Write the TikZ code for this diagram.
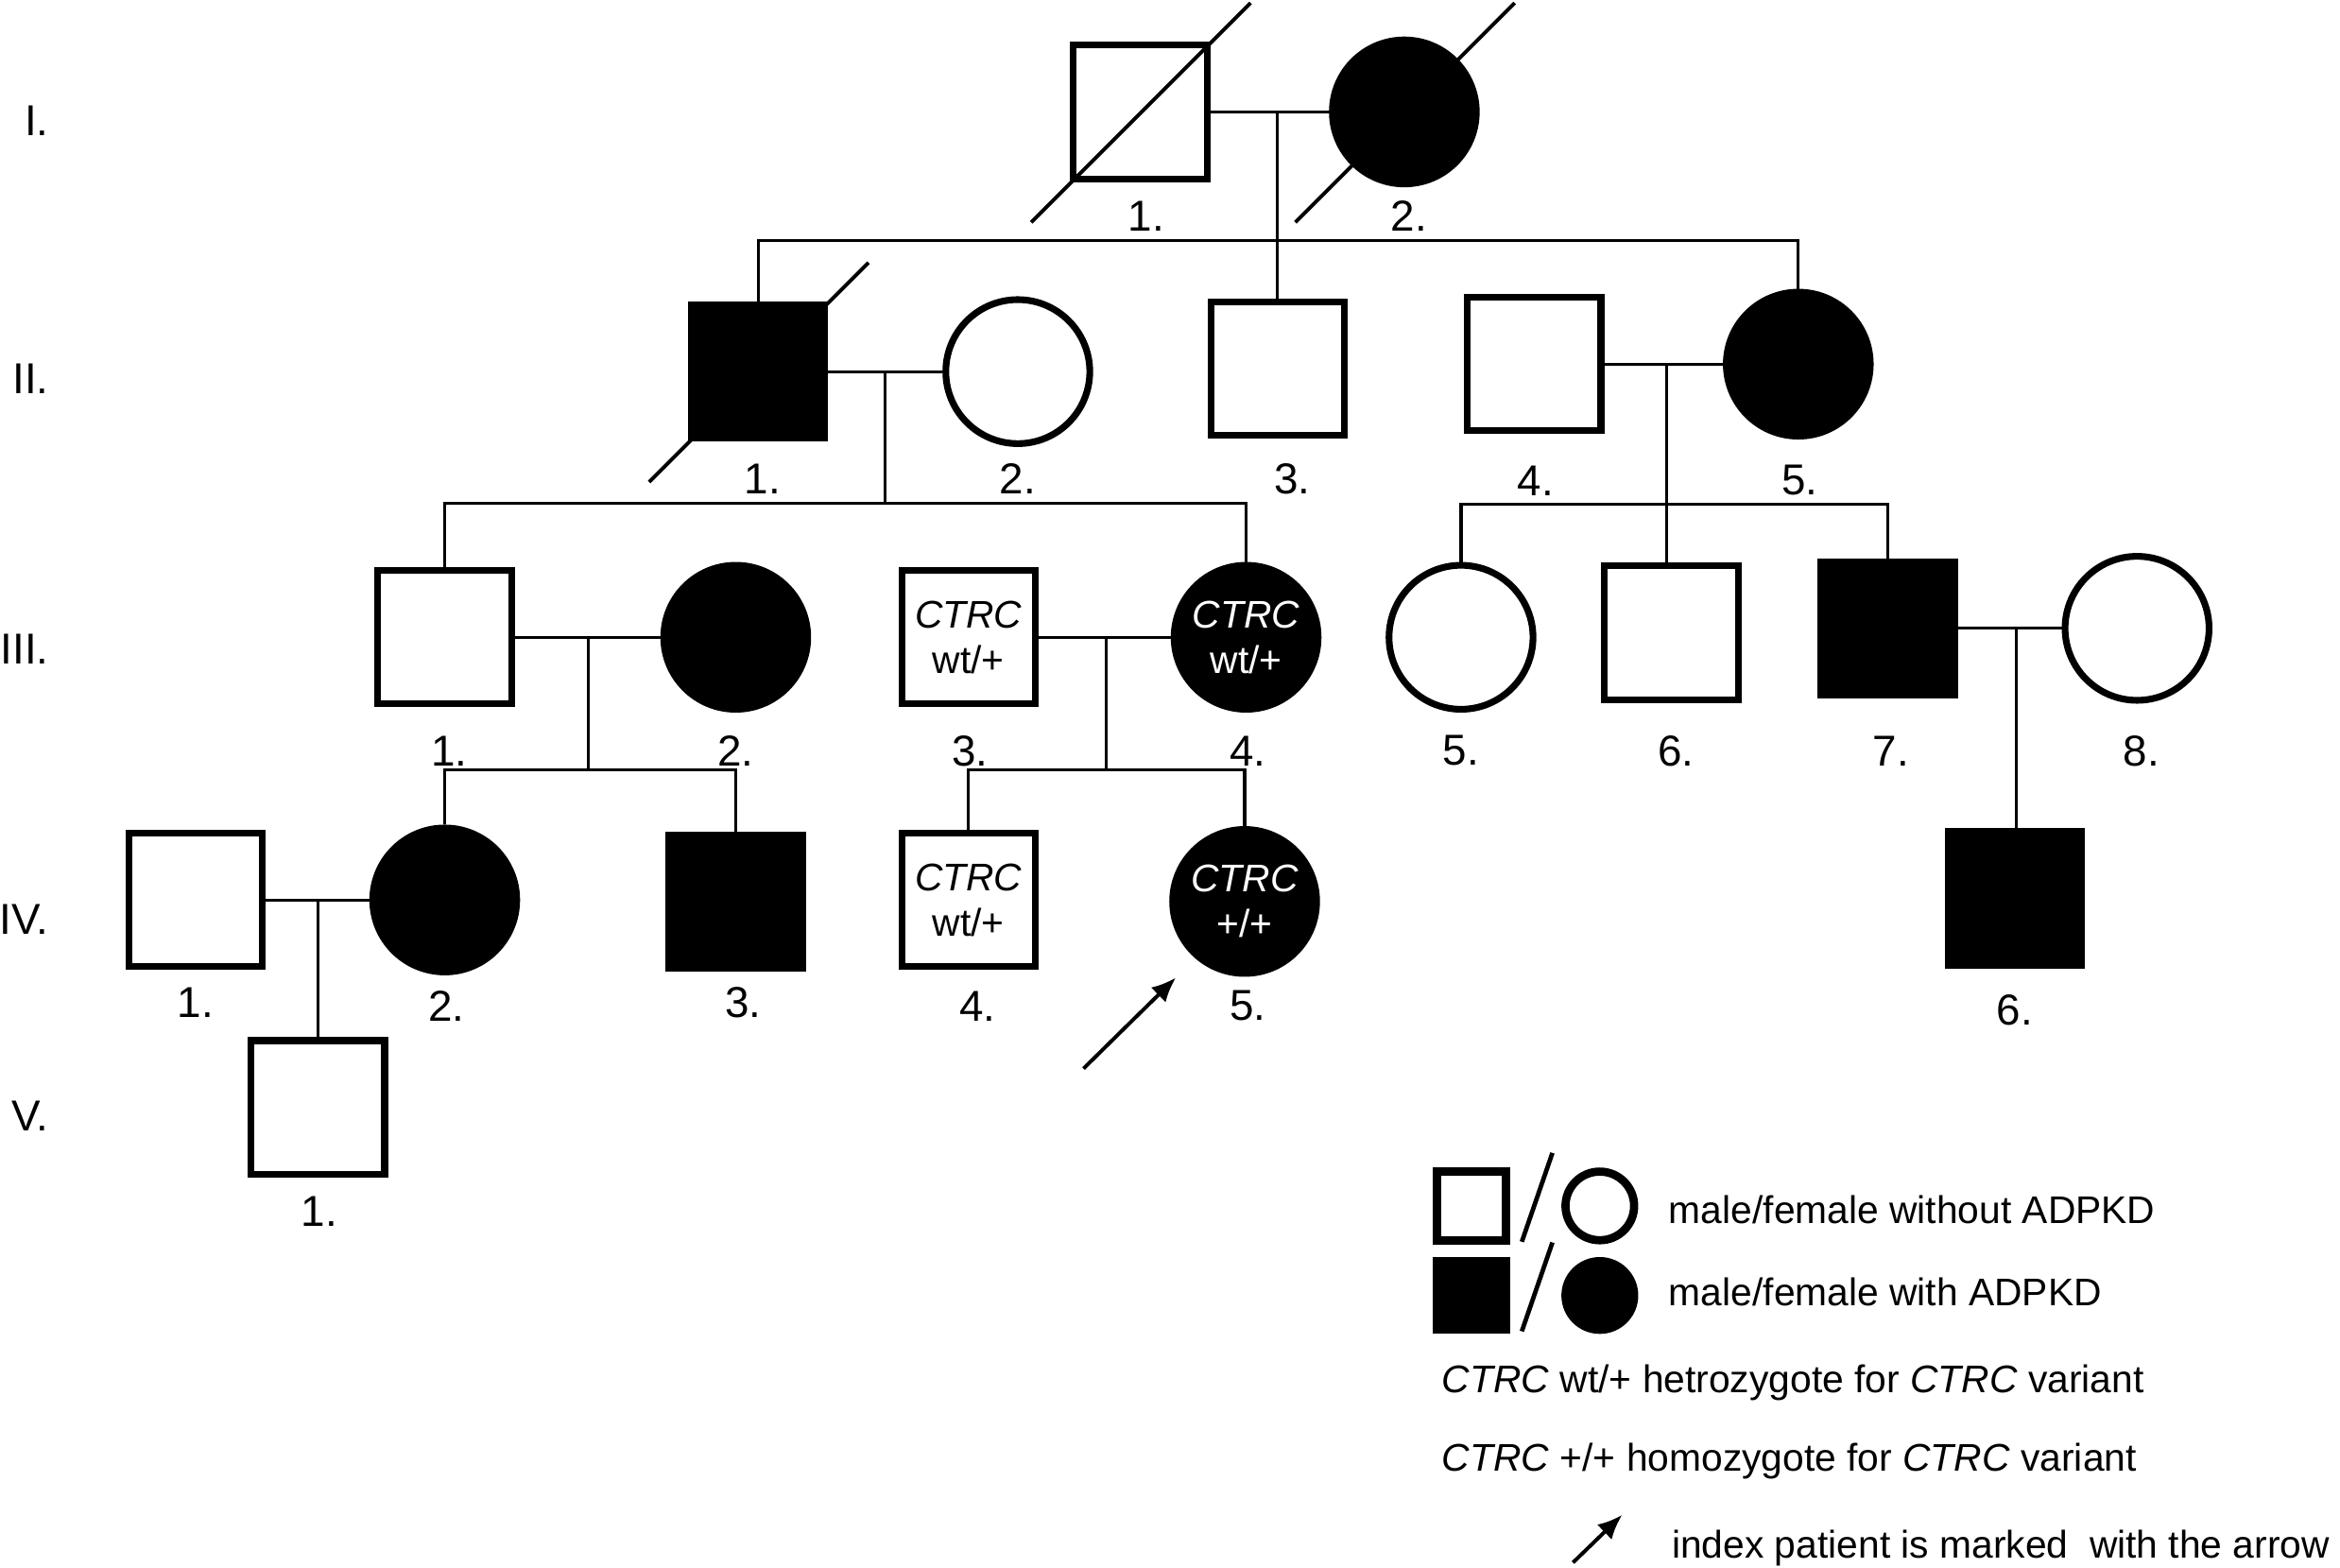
\documentclass[tikz,border=0pt]{standalone}
\usepackage{fontspec}
\setmainfont{Liberation Sans}
\usetikzlibrary{calc, arrows.meta}
\newcommand{\numfont}{\fontsize{16.5}{19.8}\selectfont}
\newcommand{\txtfont}{\fontsize{14.7}{17.4}\selectfont}

\begin{document}
\begin{tikzpicture}[x=0.02cm, y=-0.02cm, >={Latex[length=0.33cm,width=0.28cm]},
    male/.style={draw, rectangle, line width=0.09cm, minimum size=1.79cm, inner sep=0pt, fill=white},
    female/.style={draw, circle, line width=0.09cm, minimum size=1.93cm, inner sep=0pt, fill=white},
    affected/.style={fill=black, text=white},
    carrier/.style={font=\txtfont, align=center},
    keybox/.style={line width=0.11cm, minimum size=0.92cm},
    link/.style={line width=0.04cm},
    deceased/.style={line width=0.05cm},
    num/.style={font=\numfont, inner sep=0pt},
    gen/.style={font=\numfont, inner sep=0pt, anchor=east},
    legtxt/.style={font=\txtfont, inner sep=0pt, anchor=base west}]
\useasboundingbox (0,0) rectangle (1568,1050);

% generations
\node[gen] (gI) at (33,81) {I.};
\node[gen] (gII) at (33,254) {II.};
\node[gen] (gIII) at (33,435) {III.};
\node[gen] (gIV) at (33,616) {IV.};
\node[gen] (gV) at (33,748) {V.};

% I
\node[male] (I1) at (764,75) {};
\node[female, affected] (I2) at (941,75) {};
% II
\node[male, affected] (II1) at (508,249) {};
\node[female] (II2) at (682,249) {};
\node[male] (II3) at (856,247) {};
\node[male] (II4) at (1028,244) {};
\node[female, affected] (II5) at (1205,244) {};
% III
\node[male] (III1) at (298,427) {};
\node[female, affected] (III2) at (493,427) {};
\node[male, carrier] (III3) at (649,427) {\textit{CTRC}\\wt/+};
\node[female, affected, carrier] (III4) at (835,427) {\textit{CTRC}\\wt/+};
\node[female] (III5) at (979,427) {};
\node[male] (III6) at (1120,424) {};
\node[male, affected] (III7) at (1265,421) {};
\node[female] (III8) at (1432,421) {};
% IV
\node[male] (IV1) at (131,603) {};
\node[female, affected] (IV2) at (298,603) {};
\node[male, affected] (IV3) at (493,604) {};
\node[male, carrier] (IV4) at (649,603) {\textit{CTRC}\\wt/+};
\node[female, affected, carrier] (IV5) at (834,604) {\textit{CTRC}\\+/+};
\node[male, affected] (IV6) at (1350,602) {};
% V
\node[male] (V1) at (213,742) {};

% numbers
\node[num] (nI1) at (768,145) {1.};
\node[num] (nI2) at (944,145) {2.};
\node[num] (nII1) at (511,321) {1.};
\node[num] (nII2) at (682,321) {2.};
\node[num] (nII3) at (866,321) {3.};
\node[num] (nII4) at (1029,322) {4.};
\node[num] (nII5) at (1206,322) {5.};
\node[num] (nIII1) at (301,503) {1.};
\node[num] (nIII2) at (493,503) {2.};
\node[num] (nIII3) at (650,503) {3.};
\node[num] (nIII4) at (836,503) {4.};
\node[num] (nIII5) at (979,503) {5.};
\node[num] (nIII6) at (1123,503) {6.};
\node[num] (nIII7) at (1267,503) {7.};
\node[num] (nIII8) at (1435,503) {8.};
\node[num] (nIV1) at (131,672) {1.};
\node[num] (nIV2) at (299,674) {2.};
\node[num] (nIV3) at (498,672) {3.};
\node[num] (nIV4) at (655,674) {4.};
\node[num] (nIV5) at (836,674) {5.};
\node[num] (nIV6) at (1350,677) {6.};
\node[num] (nV1) at (214,812) {1.};

% matings and sibships
\coordinate (m1) at (856,75);
\coordinate (m2) at (593,249);
\coordinate (m3) at (1117,244);
\coordinate (m4) at (394,427);
\coordinate (m5) at (741,427);
\coordinate (m6) at (1351,421);
\coordinate (m7) at (213,603);
\coordinate (s1) at ($(m1)+(0,86)$);
\coordinate (s2) at ($(m2)+(0,88)$);
\coordinate (s3) at ($(m3)+(0,94)$);
\coordinate (s4) at ($(m4)+(0,89)$);
\coordinate (s5) at ($(m5)+(0,89)$);

\draw[link] (I1) -- (I2);
\draw[link] (m1) -- (m1 |- II3.north);
\draw[link] (II1.north) |- (s1) -| (II5.north);
\draw[link] (II1) -- (II2);
\draw[link] (m2) -- (s2);
\draw[link] (III1.north) |- (s2) -| (III4.north);
\draw[link] (II4) -- (II5);
\draw[link] (m3) -- (m3 |- III6.north);
\draw[link] (III5.north) |- (s3) -| (III7.north);
\draw[link] (III1) -- (III2);
\draw[link] (m4) -- (s4);
\draw[link] (IV2.north) |- (s4) -| (IV3.north);
\draw[link] (III3) -- (III4);
\draw[link] (m5) -- (s5);
\draw[link] (IV4.north) |- (s5) -| (IV5.north);
\draw[link] (III7) -- (III8);
\draw[link] (m6) -- (m6 |- IV6.north);
\draw[link] (IV1) -- (IV2);
\draw[link] (m7) -- (m7 |- V1.north);

% deceased
\draw[deceased] ($(I1)+(-73,74)$) -- ($(I1)+(74,-73)$);
\draw[deceased] ($(I2)+(-73,74)$) -- ($(I2)+(74,-73)$);
\draw[deceased] ($(II1)+(-73,74)$) -- ($(II1)+(74,-73)$);

% index patient
\coordinate (pt) at (726,716);
\coordinate (ph) at ($(IV5)+(-46,51)$);
\draw[->, line width=0.05cm] (pt) -- (ph);

% legend
\node[male, keybox] (kA) at (986,808) {};
\node[female, keybox] (kB) at (1072,808) {};
\node[male, affected, keybox] (kC) at (986,868) {};
\node[female, affected, keybox] (kD) at (1072,868) {};
\draw[line width=0.06cm] ($(kA.east)+(8,24)$) -- ($(kA.east)+(28.5,-35.5)$);
\draw[line width=0.06cm] ($(kC.east)+(8,24)$) -- ($(kC.east)+(28.5,-35.5)$);
\node[legtxt] (kAt) at (1118,820) {male/female without ADPKD};
\node[legtxt] (kCt) at (1118,875) {male/female with ADPKD};
\node[legtxt] (het) at (966,933) {\textit{CTRC} wt/+ hetrozygote for \textit{CTRC} variant};
\node[legtxt] (hom) at (966,986) {\textit{CTRC} +/+ homozygote for \textit{CTRC} variant};
\coordinate (ka1) at (1054,1047);
\coordinate (ka2) at (1087,1015);
\draw[->, line width=0.05cm] (ka1) -- (ka2);
\node[legtxt] (idx) at (1120,1044) {index patient is marked\ \ with the arrow};

\end{tikzpicture}
\end{document}
